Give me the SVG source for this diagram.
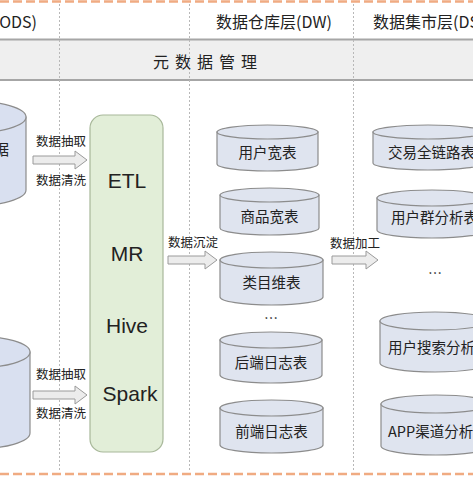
<svg xmlns="http://www.w3.org/2000/svg" width="473" height="477" viewBox="0 0 473 477">
<style>
.bg{fill:#ffffff}
.orange{stroke:#f0ab82;stroke-width:2.5;stroke-dasharray:9 4;fill:none}
.vdash{stroke:#b8b8b8;stroke-width:1;stroke-dasharray:2 2;fill:none}
.hline{stroke:#a6a6a6;stroke-width:2;fill:none}
.cyl{fill:#dfe4ef;stroke:#8c8c8c;stroke-width:1.2}
.cylL{fill:#d9e0f0;stroke:#8c8c8c;stroke-width:1.2}
.arrow{fill:#ececec;stroke:#9a9a9a;stroke-width:1}
.etl{fill:#e2eed8;stroke:#a8b89a;stroke-width:1.2}
.t{font-family:"Noto Sans CJK SC","Liberation Sans",sans-serif;fill:#222}
.hdr{font-size:16px}
.lbl{font-size:12.5px;text-anchor:middle}
.ct{font-size:14.5px;text-anchor:middle}
.ds{font-size:14.5px}
.big{font-family:"Liberation Sans","Noto Sans",sans-serif;font-size:21px;text-anchor:middle;fill:#222}
</style>
<rect class="bg" x="0" y="0" width="473" height="477"/>
<!-- header bands -->
<rect x="0" y="40" width="473" height="40" fill="#efefef"/>
<line class="hline" x1="0" y1="39.5" x2="473" y2="39.5"/>
<line class="hline" x1="0" y1="80" x2="473" y2="80"/>
<line class="orange" x1="0" y1="1.5" x2="473" y2="1.5"/>
<line class="orange" x1="0" y1="474" x2="473" y2="474"/>
<g id="dividers">
<line class="vdash" x1="59.5" y1="4" x2="59.5" y2="470"/>
<line class="vdash" x1="189.5" y1="4" x2="189.5" y2="470"/>
<line class="vdash" x1="353.5" y1="4" x2="353.5" y2="470"/>
</g>
<g id="headers">
<text class="t hdr" x="37" y="28" text-anchor="end">(ODS)</text>
<text class="t hdr" x="274" y="28" text-anchor="middle">数据仓库层(DW)</text>
<text class="t hdr" x="373" y="28">数据集市层(DS</text>
<text class="t hdr" x="153" y="68" letter-spacing="6">元数据管理</text>
</g>
<!-- ODS sources -->
<g id="src1">
<path class="cylL" d="M-86,117 V190 A56,16 0 0 0 26,190 V117 Z"/>
<ellipse class="cylL" cx="-30" cy="117" rx="56" ry="16"/>
<text class="t" font-size="15" x="9" y="155" text-anchor="end">据</text>
</g>
<g id="src2">
<path class="cylL" d="M-82,352 V433 A56,16 0 0 0 30,433 V352 Z"/>
<ellipse class="cylL" cx="-26" cy="352" rx="56" ry="16"/>
</g>
<!-- ETL box -->
<g id="etl">
<rect class="etl" x="90" y="115" width="73" height="337" rx="13" ry="13"/>
<text class="big" x="127" y="188">ETL</text>
<text class="big" x="127" y="261">MR</text>
<text class="big" x="127" y="333">Hive</text>
<text class="big" x="130" y="401">Spark</text>
</g>
<!-- DW tables -->
<g id="dw1">
<path class="cyl" d="M217,132 V164 A50.5,7 0 0 0 318,164 V132 Z"/>
<ellipse class="cyl" cx="267.5" cy="132" rx="50.5" ry="7"/>
<text class="t ct" x="267.5" y="158">用户宽表</text>
</g>
<g id="dw2">
<path class="cyl" d="M220,195 V228 A49.5,7 0 0 0 319,228 V195 Z"/>
<ellipse class="cyl" cx="269.5" cy="195" rx="49.5" ry="7"/>
<text class="t ct" x="269.5" y="222">商品宽表</text>
</g>
<g id="dw3">
<path class="cyl" d="M220,260 V297 A51.5,8 0 0 0 323,297 V260 Z"/>
<ellipse class="cyl" cx="271.5" cy="260" rx="51.5" ry="8"/>
<text class="t ct" x="271.5" y="288">类目维表</text>
</g>
<g id="dw-more">
<text class="t" font-size="14" x="271" y="323" text-anchor="middle">…</text>
</g>
<g id="dw4">
<path class="cyl" d="M220,340 V375 A51,8 0 0 0 322,375 V340 Z"/>
<ellipse class="cyl" cx="271" cy="340" rx="51" ry="8"/>
<text class="t ct" x="271" y="368">后端日志表</text>
</g>
<g id="dw5">
<path class="cyl" d="M220,408 V445 A51.5,8 0 0 0 323,445 V408 Z"/>
<ellipse class="cyl" cx="271.5" cy="408" rx="51.5" ry="8"/>
<text class="t ct" x="271.5" y="437">前端日志表</text>
</g>
<!-- DS tables -->
<g id="ds1">
<path class="cyl" d="M373,132 V163 A55,7 0 0 0 483,163 V132 Z"/>
<ellipse class="cyl" cx="428" cy="132" rx="55" ry="7"/>
<text class="t ds" x="388" y="158">交易全链路表</text>
</g>
<g id="ds2">
<path class="cyl" d="M377,198 V230 A55,8 0 0 0 487,230 V198 Z"/>
<ellipse class="cyl" cx="432" cy="198" rx="55" ry="8"/>
<text class="t ds" x="391" y="223">用户群分析表</text>
</g>
<g id="ds-more">
<text class="t" font-size="14" x="435" y="278" text-anchor="middle">…</text>
</g>
<g id="ds3">
<path class="cyl" d="M380,321 V363 A55,9 0 0 0 490,363 V321 Z"/>
<ellipse class="cyl" cx="435" cy="321" rx="55" ry="9"/>
<text class="t ds" x="388" y="353">用户搜索分析</text>
</g>
<g id="ds4">
<path class="cyl" d="M381,404 V446 A55,9 0 0 0 491,446 V404 Z"/>
<ellipse class="cyl" cx="436" cy="404" rx="55" ry="9"/>
<text class="t ds" x="388" y="437">APP渠道分析</text>
</g>
<!-- connectors -->
<g id="connectors">
<path class="arrow" d="M33,156 H75 V151 L87,160 L75,169 V164 H33 Z"/>
<text class="t lbl" x="61" y="146">数据抽取</text>
<text class="t lbl" x="61" y="185">数据清洗</text>
<path class="arrow" d="M33,391 H75 V386 L87,395 L75,404 V399 H33 Z"/>
<text class="t lbl" x="61" y="379">数据抽取</text>
<text class="t lbl" x="61" y="418">数据清洗</text>
<path class="arrow" d="M168,256 H205 V251 L217,260 L205,269 V264 H168 Z"/>
<text class="t lbl" x="193" y="247">数据沉淀</text>
<path class="arrow" d="M332,256 H366 V251 L378,260 L366,269 V264 H332 Z"/>
<text class="t lbl" x="355" y="248">数据加工</text>
</g>
</svg>
